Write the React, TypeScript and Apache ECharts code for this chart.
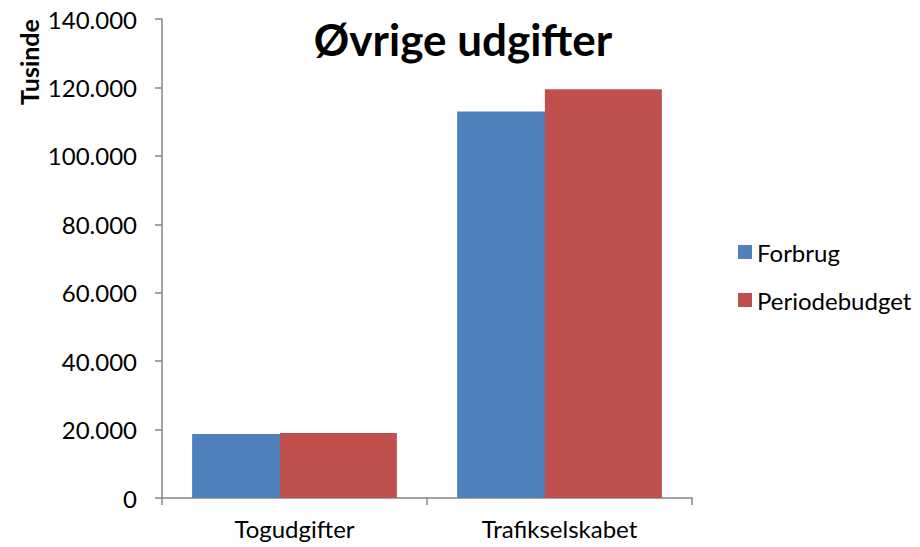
import React, { useEffect, useRef } from "react";
import * as echarts from "echarts";

const categories = ["Togudgifter", "Trafikselskabet"];
const forbrug = [18700, 113000];
const periodebudget = [19000, 119500];
const seriesNames = ["Forbrug", "Periodebudget"];
const yTicks = { min: 0, max: 140000, interval: 20000 };

const FONT = "Lato, 'Open Sans', sans-serif";

function fmt(v: number): string {
  return String(v).replace(/\B(?=(\d{3})+(?!\d))/g, ".");
}

export default function App() {
  const ref = useRef<HTMLDivElement>(null);
  useEffect(() => {
    if (!ref.current) return;
    const chart = echarts.init(ref.current, null, { renderer: "svg" });
    chart.setOption({
      animation: false,
      backgroundColor: "#ffffff",
      title: {
        text: "Øvrige udgifter",
        left: 458,
        top: 12,
        textAlign: "center",
        textStyle: { fontFamily: FONT, fontWeight: "bold", fontSize: 44, color: "#000" },
      },
      legend: {
        orient: "vertical",
        left: 733,
        top: 235,
        itemWidth: 14,
        itemHeight: 14,
        itemGap: 24,
        icon: "rect",
        textStyle: { fontFamily: FONT, fontSize: 24, color: "#000" },
        data: seriesNames,
      },
      grid: { left: 162, right: 228, top: 19, bottom: 49, containLabel: false },
      xAxis: {
        type: "category",
        data: categories,
        boundaryGap: true,
        axisLine: { lineStyle: { color: "#868686", width: 1.5 } },
        axisTick: { show: true, alignWithLabel: false, length: 7, lineStyle: { color: "#868686", width: 1.5 } },
        axisLabel: { fontFamily: FONT, fontSize: 24, color: "#000", margin: 18 },
      },
      yAxis: {
        type: "value",
        min: yTicks.min,
        max: yTicks.max,
        interval: yTicks.interval,
        splitLine: { show: false },
        axisLine: { show: true, lineStyle: { color: "#868686", width: 1.5 } },
        axisTick: { show: true, length: 7, lineStyle: { color: "#868686", width: 1.5 } },
        axisLabel: { fontFamily: FONT, fontSize: 24, color: "#000", margin: 25, formatter: (v: number) => fmt(v) },
      },
      graphic: [
        {
          type: "text",
          x: 29,
          y: 62,
          rotation: Math.PI / 2,
          style: {
            text: "Tusinde",
            fontFamily: FONT,
            fontWeight: "bold",
            fontSize: 25,
            fill: "#000",
            textAlign: "center",
            textVerticalAlign: "middle",
          },
        },
      ],
      series: [
        {
          name: seriesNames[0],
          type: "bar",
          data: forbrug,
          barWidth: 117,
          barGap: "-25%",
          itemStyle: { color: "#4F81BD" },
        },
        {
          name: seriesNames[1],
          type: "bar",
          data: periodebudget,
          barWidth: 117,
          barGap: "-25%",
          itemStyle: { color: "#C0504D" },
        },
      ],
    });
    return () => chart.dispose();
  }, []);
  return <div ref={ref} style={{ position: "absolute", left: 0, top: 0, width: 920, height: 547 }} />;
}
